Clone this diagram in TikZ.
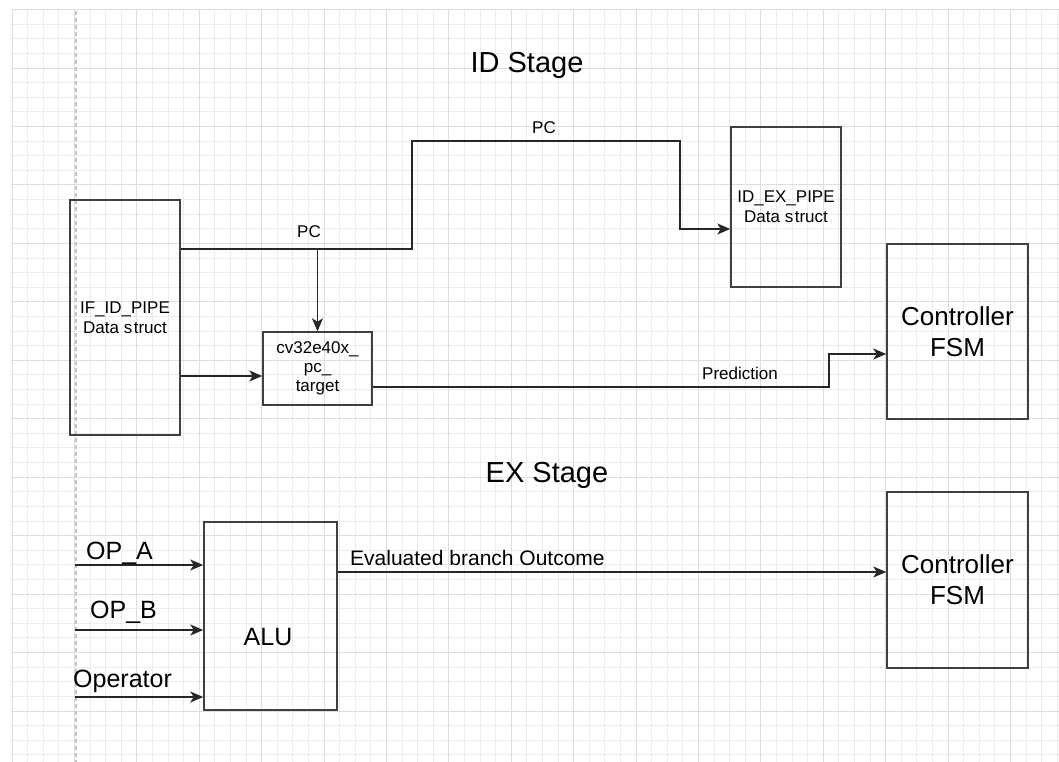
\documentclass[tikz,border=0pt]{standalone}
\usepackage{fontspec}
\setmainfont{Liberation Sans}
\usetikzlibrary{arrows.meta}
\definecolor{gridminor}{HTML}{ECECEC}
\definecolor{gridmajor}{HTML}{DEDEDE}
\definecolor{boxline}{HTML}{404040}
\definecolor{wirec}{HTML}{262626}
\definecolor{dashgray}{HTML}{C4C4C4}
\begin{document}
\begin{tikzpicture}[x=1pt,y=-1pt,
  box/.style={draw=boxline,line width=1.5pt,rectangle,inner sep=0pt,align=center},
  wire/.style={draw=wirec,line width=1.5pt},
  arr/.style={wire,-{Stealth[length=13pt,width=11pt,inset=3.5pt]}},
  small/.style={font=\fontsize{17}{20}\selectfont},
  title/.style={font=\fontsize{29}{34}\selectfont,anchor=base,inner sep=0pt},
  big/.style={font=\fontsize{25}{30}\selectfont,inner sep=0pt},
  fsm/.style={box,font=\fontsize{26}{31}\selectfont,minimum width=141pt,minimum height=175pt},
  lbl/.style={small,anchor=base,inner sep=0pt}]
\useasboundingbox (0,0) rectangle (1059,762);
\fill[white] (0,0) rectangle (1059,762);
% grid
\draw[gridminor,line width=1pt] foreach \k in {0,...,67} {(12+15.6*\k,10) -- (12+15.6*\k,762)};
\draw[gridminor,line width=1pt] foreach \k in {0,...,51} {(11,9.6+14.6125*\k) -- (1059,9.6+14.6125*\k)};
\draw[gridmajor,line width=1pt] foreach \k in {0,...,16} {(12+62.4*\k,10) -- (12+62.4*\k,762)};
\draw[gridmajor,line width=1pt] foreach \k in {0,...,12} {(11,9.6+58.45*\k) -- (1059,9.6+58.45*\k)};
\draw[dashgray,line width=1.5pt,dash pattern=on 4pt off 3pt] (76,11) -- (76,762);

% titles
\node[title] (idstage) at (527,73) {ID Stage};
\node[title] (exstage) at (547,482) {EX Stage};

% ID stage boxes
\node[box,small,minimum width=110pt,minimum height=235pt] (IFID) at (125,317.5) {IF\_ID\_PIPE\\Data s\kern1.5pt truct};
\node[box,font=\fontsize{17}{19}\selectfont,minimum width=109pt,minimum height=73pt] (cv32) at (317.5,368.5) {cv32e40x\_\\pc\_\\target};
\node[box,small,minimum width=110pt,minimum height=160pt] (IDEX) at (786,207) {ID\_EX\_PIPE\\Data s\kern1.5pt truct};
\node[fsm] (FSM1) at (957.5,331.5) {Controller\\FSM};

% EX stage boxes
\node[box,minimum width=133pt,minimum height=188pt] (ALU) at (270.5,616) {};
\node[big,anchor=base] (alutext) at (268,645) {ALU};
\node[fsm,minimum height=176pt] (FSM2) at (957.5,580) {Controller\\FSM};

% coordinates
\coordinate (pcy) at (0,249);
\coordinate (idexin) at (0,229);
\coordinate (cvin) at (0,376);
\coordinate (predout) at (0,387);
\coordinate (predin) at (0,354);
\coordinate (evaly) at (0,572);
\coordinate (opa) at (75,565);
\coordinate (opb) at (75,630);
\coordinate (opr) at (75,697);

% ID connectors
\draw[arr] (IFID.east |- pcy) -- (412,249) -- (412,141) -- (680,141) -- (680,229) -- (IDEX.west |- idexin);
\draw[arr] (cv32.north |- pcy) -- (cv32.north);
\draw[arr] (IFID.east |- cvin) -- (cv32.west |- cvin);
\draw[arr] (cv32.east |- predout) -- (829,387) -- (829,354) -- (FSM1.west |- predin);
\node[lbl] (pc1) at (309,237) {PC};
\node[lbl] (pc2) at (544,134) {PC};
\node[lbl] (pred) at (740,379) {Prediction};

% EX connectors
\draw[arr] (opa) -- (ALU.west |- opa);
\draw[arr] (opb) -- (ALU.west |- opb);
\draw[arr] (opr) -- (ALU.west |- opr);
\draw[arr] (ALU.east |- evaly) -- (FSM2.west |- evaly);
\node[big,anchor=base west] (opalbl) at (86,559) {OP\_A};
\node[big,anchor=base west] (opblbl) at (90,618) {OP\_B};
\node[big,anchor=base west] (oprlbl) at (73,687) {Operator};
\node[font=\fontsize{21}{25}\selectfont,anchor=base west,inner sep=0pt] (evallbl) at (350,565) {Evaluated branch Outcome};
\end{tikzpicture}
\end{document}
